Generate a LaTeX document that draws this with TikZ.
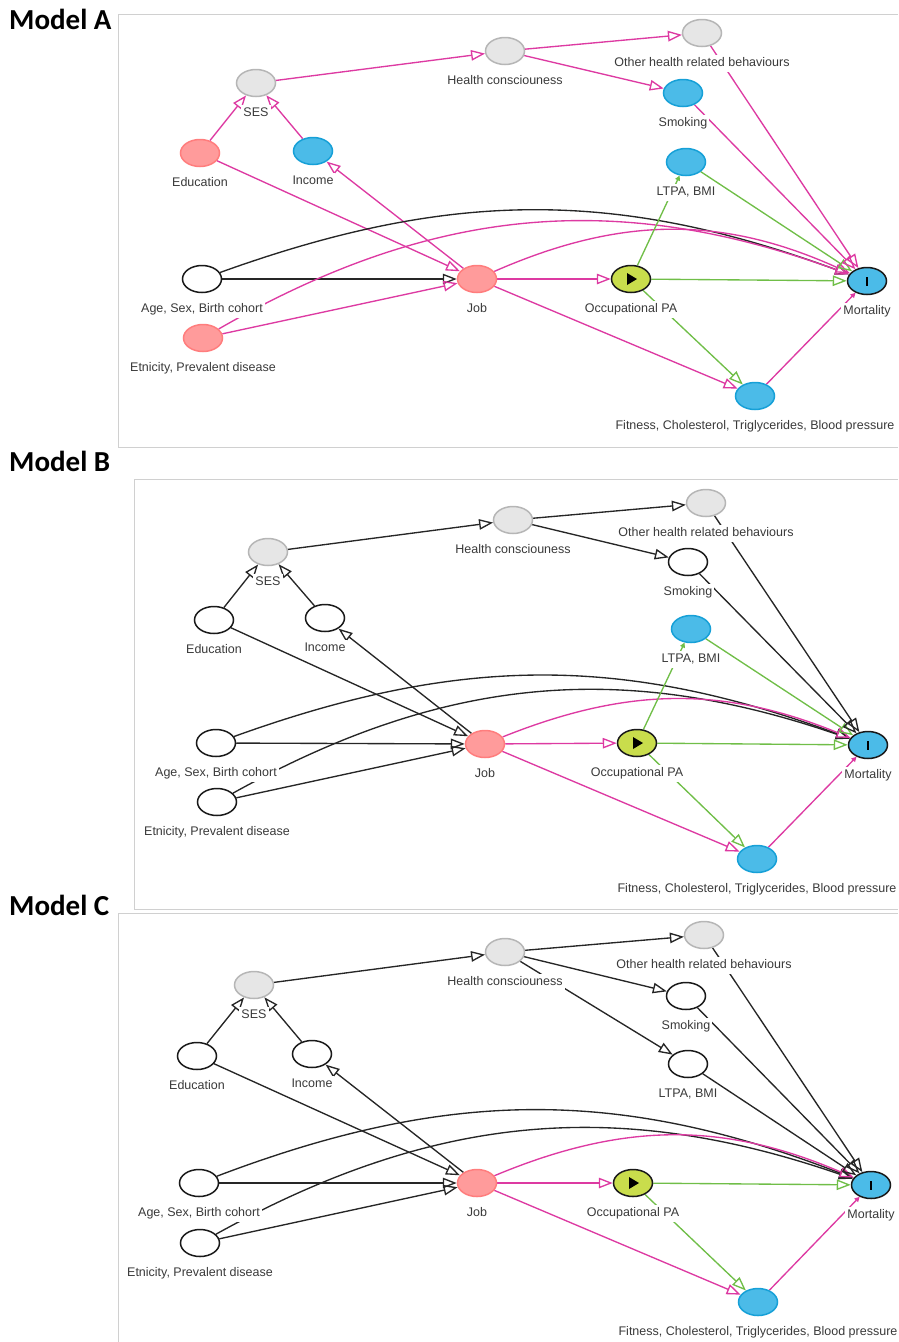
\documentclass[tikz,border=0pt]{standalone}
\usepackage{fontspec}
\setmainfont{Liberation Sans}
\newfontfamily\titlefont{Carlito}
\usetikzlibrary{arrows.meta,shapes.geometric,backgrounds,positioning}

\definecolor{pinkline}{RGB}{221,58,162}
\definecolor{greenline}{RGB}{112,190,72}
\definecolor{conffill}{RGB}{255,155,155}
\definecolor{confdraw}{RGB}{255,125,125}
\definecolor{ancfill}{RGB}{75,187,232}
\definecolor{ancdraw}{RGB}{22,160,215}
\definecolor{latfill}{RGB}{230,230,230}
\definecolor{latdraw}{RGB}{182,182,182}
\definecolor{expofill}{RGB}{201,221,76}
\definecolor{framecol}{RGB}{208,208,208}
\definecolor{lblcol}{RGB}{58,58,58}

\tikzset{
  var/.style={ellipse,minimum width=39pt,minimum height=27pt,inner sep=0pt,
    line width=1.5pt},
  conf/.style={var,fill=conffill,draw=confdraw},
  anc/.style={var,fill=ancfill,draw=ancdraw},
  latent/.style={var,fill=latfill,draw=latdraw},
  adjusted/.style={var,fill=white,draw=black!90},
  expo/.style={var,fill=expofill,draw=black!90},
  outc/.style={var,fill=ancfill,draw=black!90},
  lbl/.style={fill=white,inner sep=2pt,text=lblcol,yshift=-8pt,
    font=\fontsize{12.5}{14}\selectfont,text height=9.5pt,text depth=2.6pt},
  edge/.style={line width=1.35pt,-{Triangle[open,length=14pt,width=10.5pt]}},
  blk/.style={edge,draw=black!85},
  pnk/.style={edge,draw=pinkline},
  grn/.style={edge,draw=greenline},
  tinytip/.style={-{Triangle[length=5pt,width=5pt]}},
  paneltitle/.style={anchor=west,inner sep=0pt,font=\titlefont\bfseries\fontsize{29}{30}\selectfont},
  frame/.style={draw=framecol,line width=1pt}
}

\begin{document}
\begin{tikzpicture}[x=1pt,y=-1pt]
  \useasboundingbox (0,0) rectangle (898,1342);

  % panel frames and titles
  \draw[frame] (898,14) -| (118,447) -- (898,447);
  \draw[frame] (898,479) -| (134,909) -- (898,909);
  \draw[frame] (898,913) -| (118,1342);
  \node[paneltitle] (titleA) at (9,19) {Model A};
  \node[paneltitle] (titleB) at (9,461) {Model B};
  \node[paneltitle] (titleC) at (9,905) {Model C};

  % Model A
  \node[latent] (a-ses) at (256,83) [label={[lbl,name=a-ses-l]below:SES}] {};
  \node[conf] (a-edu) at (200,153) [label={[lbl,name=a-edu-l]below:Education}] {};
  \node[anc] (a-inc) at (313,151) [label={[lbl,name=a-inc-l]below:Income}] {};
  \node[adjusted] (a-age) at (202,279) [label={[lbl,name=a-age-l]below:Age, Sex, Birth cohort}] {};
  \node[conf] (a-eth) at (203,338) [label={[lbl,name=a-eth-l]below:Etnicity, Prevalent disease}] {};
  \node[latent] (a-hc) at (505,51) [label={[lbl,name=a-hc-l]below:Health consciouness}] {};
  \node[latent] (a-oth) at (702,33) [label={[lbl,name=a-oth-l]below:Other health related behaviours}] {};
  \node[anc] (a-smk) at (683,93) [label={[lbl,name=a-smk-l]below:Smoking}] {};
  \node[anc] (a-ltpa) at (686,162) [label={[lbl,name=a-ltpa-l]below:LTPA, BMI}] {};
  \node[conf] (a-job) at (477,279) [label={[lbl,name=a-job-l]below:Job}] {};
  \node[expo] (a-opa) at (631,279) [label={[lbl,name=a-opa-l]below:Occupational PA}] {};
  \node[outc] (a-mort) at (867,281) [label={[lbl,name=a-mort-l]below:Mortality}] {\rule{2.6pt}{9pt}};
  \node[anc] (a-fit) at (755,396) [label={[lbl,name=a-fit-l]below:Fitness, Cholesterol, Triglycerides, Blood pressure}] {};

  \begin{scope}[on background layer]
    \draw[pnk] (a-edu) -- (a-ses);
    \draw[pnk] (a-inc) -- (a-ses);
    \draw[pnk] (a-ses) -- (a-hc);
    \draw[pnk] (a-hc) -- (a-oth);
    \draw[pnk] (a-hc) -- (a-smk);
    \draw[pnk] (a-edu) -- (a-job);
    \draw[pnk] (a-job) -- (a-inc);
    \draw[blk] (a-age) -- (a-job);
    \draw[pnk] (a-eth) -- (a-job);
    \draw[blk] (a-age) to[bend left=20] (a-mort);
    \draw[pnk] (a-eth) to[bend left=25] (a-mort);
    \draw[pnk] (a-job) to[bend left=24] (a-mort);
    \draw[pnk] (a-job) -- (a-opa);
    \draw[pnk] (a-job) -- (a-fit);
    \draw[grn,tinytip] (a-opa) -- (a-ltpa);
    \draw[grn] (a-opa) -- (a-mort);
    \draw[grn] (a-opa) -- (a-fit);
    \draw[grn] (a-ltpa) -- (a-mort);
    \draw[pnk] (a-smk) -- (a-mort);
    \draw[pnk] (a-oth) -- (a-mort);
    \draw[pnk,tinytip] (a-fit) -- (a-mort);
  \end{scope}

  % Model B
  \node[latent] (b-ses) at (268,552) [label={[lbl,name=b-ses-l]below:SES}] {};
  \node[adjusted] (b-edu) at (214,620) [label={[lbl,name=b-edu-l]below:Education}] {};
  \node[adjusted] (b-inc) at (325,618) [label={[lbl,name=b-inc-l]below:Income}] {};
  \node[adjusted] (b-age) at (216,743) [label={[lbl,name=b-age-l]below:Age, Sex, Birth cohort}] {};
  \node[adjusted] (b-eth) at (217,802) [label={[lbl,name=b-eth-l]below:Etnicity, Prevalent disease}] {};
  \node[latent] (b-hc) at (513,520) [label={[lbl,name=b-hc-l]below:Health consciouness}] {};
  \node[latent] (b-oth) at (706,503) [label={[lbl,name=b-oth-l]below:Other health related behaviours}] {};
  \node[adjusted] (b-smk) at (688,562) [label={[lbl,name=b-smk-l]below:Smoking}] {};
  \node[anc] (b-ltpa) at (691,629) [label={[lbl,name=b-ltpa-l]below:LTPA, BMI}] {};
  \node[conf] (b-job) at (485,744) [label={[lbl,name=b-job-l]below:Job}] {};
  \node[expo] (b-opa) at (637,743) [label={[lbl,name=b-opa-l]below:Occupational PA}] {};
  \node[outc] (b-mort) at (868,745) [label={[lbl,name=b-mort-l]below:Mortality}] {\rule{2.6pt}{9pt}};
  \node[anc] (b-fit) at (757,859) [label={[lbl,name=b-fit-l]below:Fitness, Cholesterol, Triglycerides, Blood pressure}] {};

  \begin{scope}[on background layer]
    \draw[blk] (b-edu) -- (b-ses);
    \draw[blk] (b-inc) -- (b-ses);
    \draw[blk] (b-ses) -- (b-hc);
    \draw[blk] (b-hc) -- (b-oth);
    \draw[blk] (b-hc) -- (b-smk);
    \draw[blk] (b-edu) -- (b-job);
    \draw[blk] (b-job) -- (b-inc);
    \draw[blk] (b-age) -- (b-job);
    \draw[blk] (b-eth) -- (b-job);
    \draw[blk] (b-age) to[bend left=20] (b-mort);
    \draw[blk] (b-eth) to[bend left=24] (b-mort);
    \draw[pnk] (b-job) to[bend left=22] (b-mort);
    \draw[pnk] (b-job) -- (b-opa);
    \draw[pnk] (b-job) -- (b-fit);
    \draw[grn,tinytip] (b-opa) -- (b-ltpa);
    \draw[grn] (b-opa) -- (b-mort);
    \draw[grn] (b-opa) -- (b-fit);
    \draw[grn] (b-ltpa) -- (b-mort);
    \draw[blk] (b-smk) -- (b-mort);
    \draw[blk] (b-oth) -- (b-mort);
    \draw[pnk,tinytip] (b-fit) -- (b-mort);
  \end{scope}

  % Model C
  \node[latent] (c-ses) at (254,985) [label={[lbl,name=c-ses-l]below:SES}] {};
  \node[adjusted] (c-edu) at (197,1056) [label={[lbl,name=c-edu-l]below:Education}] {};
  \node[adjusted] (c-inc) at (312,1054) [label={[lbl,name=c-inc-l]below:Income}] {};
  \node[adjusted] (c-age) at (199,1183) [label={[lbl,name=c-age-l]below:Age, Sex, Birth cohort}] {};
  \node[adjusted] (c-eth) at (200,1243) [label={[lbl,name=c-eth-l]below:Etnicity, Prevalent disease}] {};
  \node[latent] (c-hc) at (505,952) [label={[lbl,name=c-hc-l]below:Health consciouness}] {};
  \node[latent] (c-oth) at (704,935) [label={[lbl,name=c-oth-l]below:Other health related behaviours}] {};
  \node[adjusted] (c-smk) at (686,996) [label={[lbl,name=c-smk-l]below:Smoking}] {};
  \node[adjusted] (c-ltpa) at (688,1064) [label={[lbl,name=c-ltpa-l]below:LTPA, BMI}] {};
  \node[conf] (c-job) at (477,1183) [label={[lbl,name=c-job-l]below:Job}] {};
  \node[expo] (c-opa) at (633,1183) [label={[lbl,name=c-opa-l]below:Occupational PA}] {};
  \node[outc] (c-mort) at (871,1185) [label={[lbl,name=c-mort-l]below:Mortality}] {\rule{2.6pt}{9pt}};
  \node[anc] (c-fit) at (758,1302) [label={[lbl,name=c-fit-l]below:Fitness, Cholesterol, Triglycerides, Blood pressure}] {};

  \begin{scope}[on background layer]
    \draw[blk] (c-edu) -- (c-ses);
    \draw[blk] (c-inc) -- (c-ses);
    \draw[blk] (c-ses) -- (c-hc);
    \draw[blk] (c-hc) -- (c-oth);
    \draw[blk] (c-hc) -- (c-smk);
    \draw[blk] (c-hc) -- (c-ltpa);
    \draw[blk] (c-edu) -- (c-job);
    \draw[blk] (c-job) -- (c-inc);
    \draw[blk] (c-age) -- (c-job);
    \draw[blk] (c-eth) -- (c-job);
    \draw[blk] (c-age) to[bend left=21] (c-mort);
    \draw[blk] (c-eth) to[bend left=24] (c-mort);
    \draw[pnk] (c-job) to[bend left=23] (c-mort);
    \draw[pnk] (c-job) -- (c-opa);
    \draw[pnk] (c-job) -- (c-fit);
    \draw[grn] (c-opa) -- (c-mort);
    \draw[grn] (c-opa) -- (c-fit);
    \draw[blk] (c-ltpa) -- (c-mort);
    \draw[blk] (c-smk) -- (c-mort);
    \draw[blk] (c-oth) -- (c-mort);
    \draw[pnk,tinytip] (c-fit) -- (c-mort);
  \end{scope}

  % exposure marks
  \foreach \p in {a,b,c}
    \fill (\p-opa.center) ++(-4pt,6pt) -- ++(10pt,-6pt) -- ++(-10pt,-6pt) -- cycle;
\end{tikzpicture}
\end{document}
